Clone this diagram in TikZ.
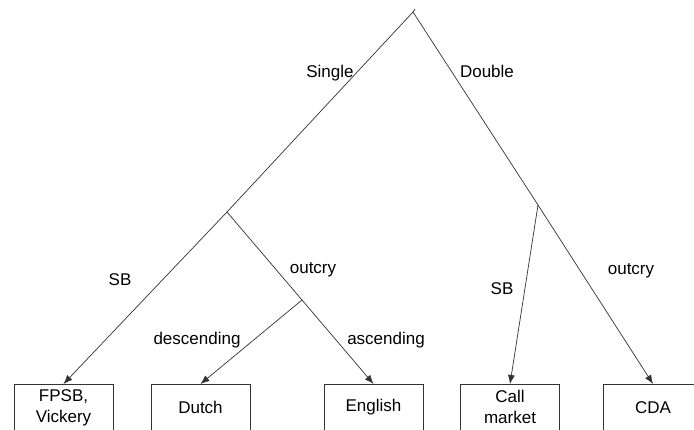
\documentclass[tikz,border=0pt]{standalone}
\usepackage{fontspec}
\setmainfont{Liberation Sans}
\usetikzlibrary{arrows.meta}
\begin{document}
\begin{tikzpicture}[x=1pt,y=-1pt,
  edge/.style={draw=black!80,line width=0.7pt},
  arr/.style={edge,-{Latex[length=9pt,width=7pt]}},
  leaf/.style={draw=black!80,line width=0.8pt,anchor=north,minimum width=99pt,minimum height=46pt,inner sep=0pt,align=center,font=\fontsize{17}{21}\selectfont},
  lab/.style={anchor=base,inner sep=0pt,font=\fontsize{17}{20}\selectfont}]
\useasboundingbox (0,0) rectangle (694,430);
\clip (0,0) rectangle (694,430);
\fill[white] (0,0) rectangle (694,430);
% branch points
\coordinate (root) at (413,12);
\coordinate (single) at (227,212);
\coordinate (double) at (538,205);
\coordinate (outcry) at (302,300);
\coordinate (tick) at (415,9);
% leaves
\node[leaf] (fpsb) at (63.5,384) {FPSB,\\Vickery};
\node[leaf] (dutch) at (200.5,384) {Dutch};
\node[leaf] (english) at (373.5,384) {English};
\node[leaf] (call) at (510,384) {Call\\market};
\node[leaf] (cda) at (653,384) {CDA};
% edges
\draw[edge] (tick) -- (root);
\draw[edge] (root) -- (single);
\draw[edge] (root) -- (double);
\draw[arr] (single) -- (fpsb.north);
\draw[edge] (single) -- (outcry);
\draw[arr] (outcry) -- (dutch.north);
\draw[arr] (outcry) -- (english.north);
\draw[arr] (double) -- (call.north);
\draw[arr] (double) -- (cda.north);
% labels
\node[lab] (lsingle) at (330,78) {Single};
\node[lab] (ldouble) at (487,78) {Double};
\node[lab] (lsb1) at (120,286) {SB};
\node[lab] (lout1) at (313,274) {outcry};
\node[lab] (ldesc) at (197,345) {descending};
\node[lab] (lasc) at (386,345) {ascending};
\node[lab] (lsb2) at (502,295) {SB};
\node[lab] (lout2) at (631,275) {outcry};
\end{tikzpicture}
\end{document}
